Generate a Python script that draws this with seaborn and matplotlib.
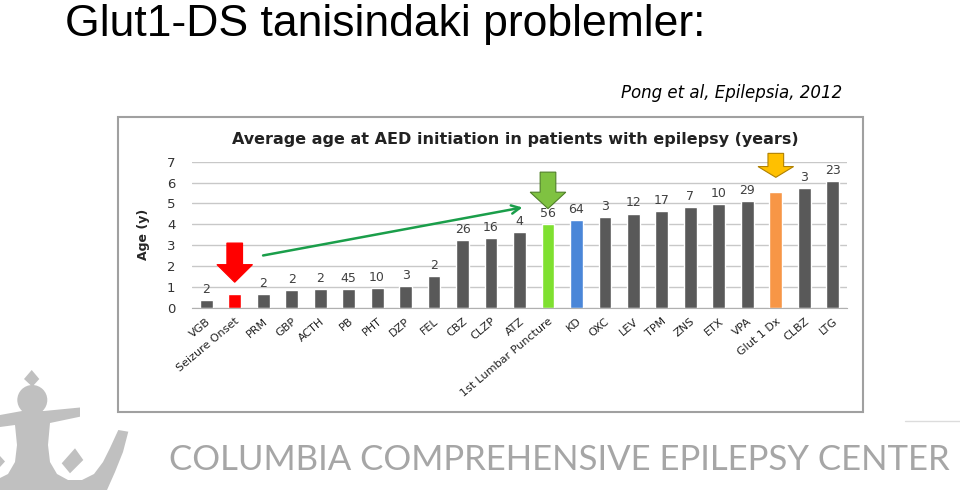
import matplotlib
matplotlib.use("Agg")
import matplotlib.pyplot as plt
import seaborn as sns
import pandas as pd
from matplotlib.patches import Rectangle, FancyArrow, Polygon, Ellipse, FancyArrowPatch

categories = ["VGB", "Seizure Onset", "PRM", "GBP", "ACTH", "PB", "PHT", "DZP", "FEL",
              "CBZ", "CLZP", "ATZ", "1st Lumbar Puncture", "KD", "OXC", "LEV", "TPM",
              "ZNS", "ETX", "VPA", "Glut 1 Dx", "CLBZ", "LTG"]
ages = [0.36, 0.66, 0.66, 0.83, 0.89, 0.90, 0.94, 1.02, 1.52,
        3.23, 3.34, 3.61, 4.00, 4.20, 4.33, 4.51, 4.64,
        4.84, 4.97, 5.11, 5.55, 5.72, 6.07]
n_labels = ["2", "", "2", "2", "2", "45", "10", "3", "2",
            "26", "16", "4", "56", "64", "3", "12", "17",
            "7", "10", "29", "", "3", "23"]
grey = "#595959"
highlight = {"Seizure Onset": "#ff0000", "1st Lumbar Puncture": "#7fe030",
             "KD": "#4a86d8", "Glut 1 Dx": "#f79646"}
colors = [highlight.get(c, grey) for c in categories]

df = pd.DataFrame({"cat": categories, "age": ages})

sns.set_style("white")
plt.rcParams["font.family"] = ["DejaVu Sans"]

fig = plt.figure(figsize=(9.6, 4.9), dpi=100)
fig.patch.set_facecolor("white")

# chart frame
fig.add_artist(Rectangle((118 / 960, 1 - 412 / 490), (863 - 118) / 960, (412 - 117) / 490,
                         transform=fig.transFigure, fill=False, edgecolor="#a0a0a0", lw=1.5))

ax = fig.add_axes([192 / 960, 1 - 307.7 / 490, (847 - 192) / 960, (307.7 - 161.7) / 490])
sns.barplot(data=df, x="cat", y="age", hue="cat", palette=colors, legend=False,
            width=0.45, ax=ax, saturation=1)
ax.set_ylim(0, 7)
ax.set_xlim(-0.5, len(categories) - 0.5)
ax.set_yticks(range(0, 8))
ax.yaxis.grid(True, color="#c8c8c8", lw=1)
ax.set_axisbelow(True)
for s in ["top", "right", "left"]:
    ax.spines[s].set_visible(False)
ax.spines["bottom"].set_color("#b0b0b0")
ax.tick_params(axis="y", length=0, labelsize=9.5, labelcolor="#333333", pad=12)
ax.set_xticks(range(len(categories)))
ax.set_xticklabels(categories, rotation=40, ha="right", rotation_mode="anchor",
                   fontsize=8, color="#222222")
ax.tick_params(axis="x", length=0, pad=6)
ax.set_xticks([i - 0.5 for i in range(len(categories) + 1)], minor=True)
ax.tick_params(axis="x", which="minor", length=3, color="#b0b0b0")
ax.set_xlabel("")
ax.set_ylabel("Age (y)", fontsize=9, fontweight="bold", labelpad=12)
for i, (v, lab) in enumerate(zip(ages, n_labels)):
    if lab:
        ax.annotate(lab, (i, v), xytext=(0, 3), textcoords="offset points",
                    ha="center", va="bottom", fontsize=9, color="#404040")

fig.text(515 / 960, 1 - 139 / 490, "Average age at AED initiation in patients with epilepsy (years)",
         ha="center", va="center", fontsize=11.5, fontweight="bold", color="#222222")

# block arrows
def block_arrow(x, ytop, ybot, face, edge):
    ax.add_patch(FancyArrow(x, ytop, 0, ybot - ytop, width=0.55, head_width=1.25,
                            head_length=(ytop - ybot) * 0.45, length_includes_head=True,
                            facecolor=face, edgecolor=edge, lw=0.8, clip_on=False, zorder=5))

i_so = categories.index("Seizure Onset")
i_lp = categories.index("1st Lumbar Puncture")
i_gl = categories.index("Glut 1 Dx")
block_arrow(i_so, 3.1, 1.22, "#ff0000", "#ff0000")
block_arrow(i_lp, 6.5, 4.75, "#7fc241", "#4f7f28")
block_arrow(i_gl, 7.4, 6.25, "#ffc000", "#b08000")

ax.add_patch(FancyArrowPatch((i_so + 0.9, 2.48), (i_lp - 0.8, 4.83), arrowstyle="->,head_length=6,head_width=3",
                             color="#1a9e4a", lw=1.8, clip_on=False, zorder=6))

# slide texts
fig.text(65 / 960, 1 - 36 / 490, "Glut1-DS tanisindaki problemler:", ha="left", va="baseline",
         fontsize=32, color="black", family=["Liberation Sans"])
fig.text(842 / 960, 1 - 93 / 490, "Pong et al, Epilepsia, 2012", ha="right", va="center",
         fontsize=12, style="italic", color="black")
fig.text(950 / 960, 1 - 460 / 490, "COLUMBIA COMPREHENSIVE EPILEPSY CENTER", ha="right", va="center",
         fontsize=25, color="#a6a6a6", family=["Lato"])

# crown logo
lc = "#c0c0c0"
def P(pts):
    return [(x / 960, 1 - y / 490) for x, y in pts]
def poly(pts):
    fig.add_artist(Polygon(P(pts), closed=True, transform=fig.transFigure, color=lc, lw=0))
poly([(31.7, 370), (39.3, 379), (32.3, 386.7), (24, 379)])
fig.add_artist(Ellipse((32.3 / 960, 1 - 400 / 490), 30 / 960, 30 / 490,
                       transform=fig.transFigure, color=lc, lw=0))
poly([(0, 415), (22, 411), (44, 411), (80, 407.5), (80, 416.7), (50, 423), (48, 445),
      (50, 462), (57, 474), (68, 480), (82, 480), (94, 474), (103, 462), (110, 448),
      (118.3, 430), (128.3, 431.7), (123, 452), (115, 472), (107, 490), (0, 490),
      (0, 478), (8, 474), (15, 462), (17, 445), (15, 425), (0, 427)])
poly([(61.7, 463.3), (75, 448.3), (83.3, 460), (70, 473.3)])
poly([(0, 456), (5, 461.5), (0, 467)])
fig.add_artist(plt.Line2D([905 / 960, 1], [1 - 420.7 / 490, 1 - 420.7 / 490], transform=fig.transFigure,
                          color="#dcdcdc", lw=1))

fig.savefig("out.png", dpi=100, facecolor="white")
